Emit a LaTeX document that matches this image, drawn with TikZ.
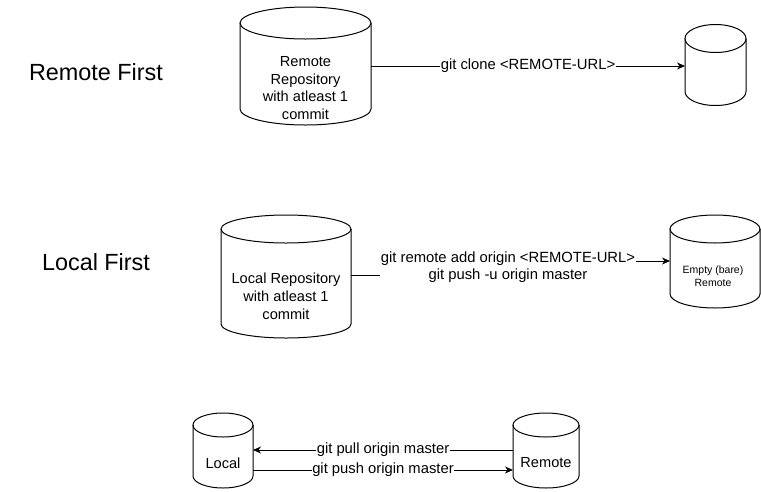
\documentclass[tikz,border=0pt]{standalone}
\usepackage{fontspec}
\setmainfont{Liberation Sans}
\usetikzlibrary{arrows.meta}
\newcommand\mycyl[3]{%
  \draw[cylline] ([yshift=-#3pt]#1.north) ellipse[x radius=#2pt, y radius=#3pt];
  \draw[cylline] ([yshift=-#3pt]#1.north west) -- ([yshift=#3pt]#1.south west)
    arc[start angle=180, end angle=360, x radius=#2pt, y radius=#3pt]
    -- ([yshift=-#3pt]#1.north east);}
\begin{document}
\begin{tikzpicture}[x=1pt,y=-1pt,
  cylbox/.style={inner sep=0pt, outer sep=0pt, draw=none},
  cylline/.style={line width=1pt, black},
  cyltext/.style={align=center, inner sep=0pt, font=\fontsize{14.6}{17.8}\selectfont},
  smalltext/.style={align=center, inner sep=0pt, font=\fontsize{10.5}{12.5}\selectfont},
  title/.style={inner sep=0pt, font=\fontsize{23.4}{28}\selectfont},
  lbl/.style={fill=white, inner sep=1pt, align=center, font=\fontsize{14.8}{17}\selectfont},
  conn/.style={line width=1pt, black},
  arr/.style={conn, -{Stealth[length=8pt, width=7pt, inset=2.5pt]}}]
\useasboundingbox (0,0) rectangle (761,491);

% titles
\node[title] (t1) at (96,72) {Remote First};
\node[title] (t2) at (96,262) {Local First};

% row 1
\node[cylbox, minimum width=131pt, minimum height=118pt] (r1) at (305.5,66) {};
\mycyl{r1}{65.5}{16}
\node[cyltext] (r1t) at (305.5,88) {Remote\\Repository\\with atleast 1\\commit};
\node[cylbox, minimum width=61pt, minimum height=81pt] (r2) at (715.5,65) {};
\mycyl{r2}{30.5}{14}
\draw[arr] (r1.east) -- (r2.west |- r1.east) node[lbl, midway] (l1) {git clone <REMOTE-URL>};

% row 2
\node[cylbox, minimum width=130pt, minimum height=123pt] (r3) at (286,276.5) {};
\mycyl{r3}{65}{14}
\node[cyltext] (r3t) at (286,296) {Local Repository\\with atleast 1\\commit};
\node[cylbox, minimum width=90pt, minimum height=93pt] (r4) at (715,261.5) {};
\mycyl{r4}{45}{14}
\node[smalltext] (r4t) at (713,276) {Empty (bare)\\Remote};
\coordinate (s1) at (351,275);
\coordinate (s2) at (507,275);
\coordinate (s3) at (507,261);
\draw[arr] (s1) -- (s2) -- (s3) -- (r4.west |- s3);
\node[lbl] (l2) at (508,267.5) {git remote add origin <REMOTE-URL>\\git push -u origin master};

% row 3
\node[cylbox, minimum width=60pt, minimum height=75pt] (rl) at (223,450.5) {};
\mycyl{rl}{30}{12}
\node[cyltext] (rlt) at (223,463) {Local};
\node[cylbox, minimum width=66pt, minimum height=75pt] (rr) at (546,450.5) {};
\mycyl{rr}{33}{12}
\node[cyltext] (rrt) at (546,463) {Remote};
\coordinate (p1) at (253,450);
\coordinate (p2) at (513,450);
\coordinate (q1) at (253,470);
\coordinate (q2) at (513,470);
\draw[arr] (rr.west |- p2) -- (rl.east |- p1) node[lbl, midway, inner sep=0.5pt] (l3) {git pull origin master};
\draw[arr] (rl.east |- q1) -- (rr.west |- q2) node[lbl, midway, inner sep=0.5pt] (l4) {git push origin master};
\end{tikzpicture}
\end{document}
